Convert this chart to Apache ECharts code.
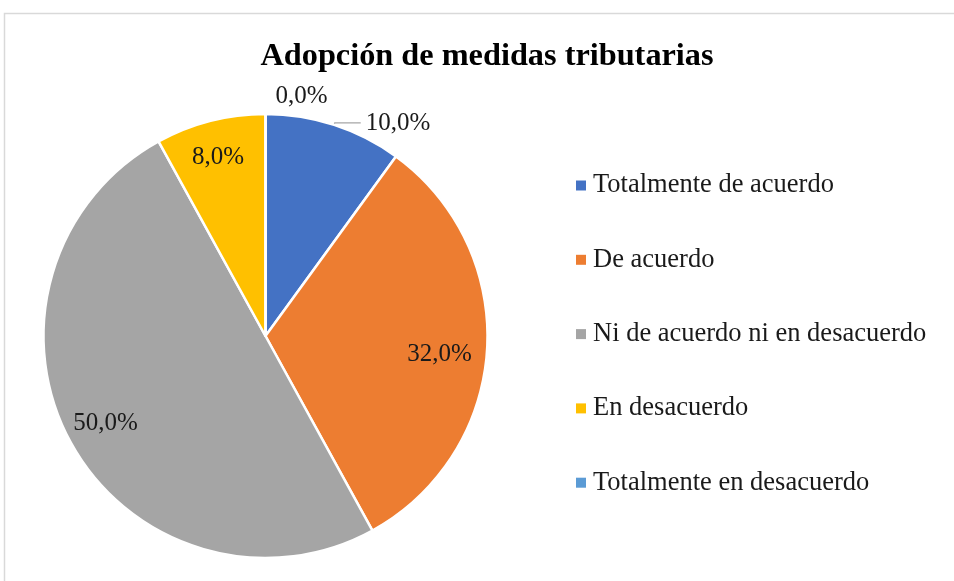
<!DOCTYPE html>
<html><head><meta charset="utf-8">
<script src="https://cdn.jsdelivr.net/npm/echarts@6/dist/echarts.min.js"></script>
<style>html,body{margin:0;padding:0;background:#fff}#c{width:954px;height:581px}</style>
</head><body><div id="c"></div>
<script>
const categories = ['Totalmente de acuerdo','De acuerdo','Ni de acuerdo ni en desacuerdo','En desacuerdo','Totalmente en desacuerdo'];
const values = [10.0, 32.0, 50.0, 8.0, 0.0];
const colors = ['#4472C4','#ED7D31','#A5A5A5','#FFC000','#5B9BD5'];
const titleText = 'Adopción de medidas tributarias';

const FONT = '"Liberation Serif", "Times New Roman", serif';
const fmt = v => v.toFixed(1).replace('.', ',') + '%';
const insideIdx = [1,2,3];

const chart = echarts.init(document.getElementById('c'));
const mainData = categories.map((n,i) => {
  const d = {name:n, value:values[i], itemStyle:{color:colors[i]}};
  if (i === 0) {
    d.label = {show:true, position:'outside'};
    d.labelLine = {show:true, length:2, length2:26, lineStyle:{color:'#a6a6a6', width:1.2}};
  } else if (i === 4) {
    d.label = {show:true, position:'outside'};
    d.labelLine = {show:false, length:5, length2:5};
  } else {
    d.label = {show:false};
    d.labelLine = {show:false};
  }
  return d;
});
const overlayData = categories.map((n,i) => ({
  name:n, value:values[i],
  label:{show: insideIdx.includes(i)}
}));

chart.setOption({
  animation:false,
  backgroundColor:'#fff',
  graphic:[{type:'rect', shape:{x:4.5,y:13.5,width:1000,height:600}, style:{fill:'none', stroke:'#d9d9d9', lineWidth:1.5}, silent:true}],
  title:{text:titleText, left:482, top:36, textAlign:'center',
    textStyle:{fontFamily:FONT, fontWeight:'bold', fontSize:32.3, color:'#000'}},
  legend:{orient:'vertical', left:576, top:172, padding:0, itemWidth:10, itemHeight:10, icon:'rect', itemGap:47.3,
    itemStyle:{borderWidth:0},
    data:categories,
    textStyle:{fontFamily:FONT, fontSize:26.5, color:'#1a1a1a', lineHeight:26, padding:[0,0,0,2]}},
  series:[
    {type:'pie', center:[265.5,336], radius:[0,222], startAngle:90, clockwise:true,
     avoidLabelOverlap:false, silent:true,
     itemStyle:{borderColor:'#fff', borderWidth:2.5},
     label:{fontFamily:FONT, fontSize:25, color:'#1a1a1a', formatter:p=>fmt(p.value)},
     labelLayout:function(p){ if(p.dataIndex===4){ return {align:'left', dy:-13}; } return {}; },
     data:mainData},
    {type:'pie', center:[265.5,336], radius:[137,222], startAngle:90, clockwise:true,
     avoidLabelOverlap:false, silent:true, legendHoverLink:false,
     itemStyle:{color:'rgba(0,0,0,0)', borderWidth:0},
     label:{position:'inside', fontFamily:FONT, fontSize:25, color:'#1a1a1a', formatter:p=>fmt(p.value)},
     labelLayout:function(p){ if(p.dataIndex===1){ return {dx:-8, dy:7}; } if(p.dataIndex===3){ return {dx:-2, dy:-2}; } return {}; },
     labelLine:{show:false},
     data:overlayData}
  ]
});
</script></body></html>
